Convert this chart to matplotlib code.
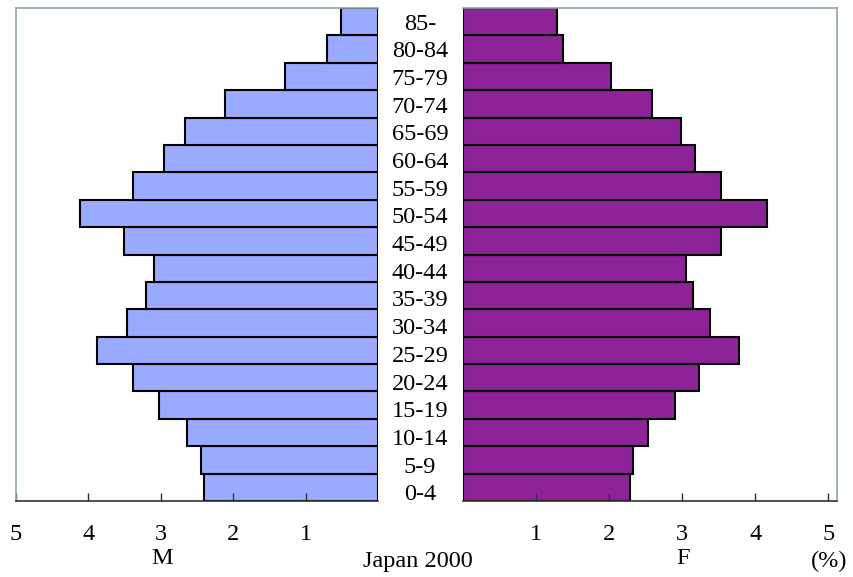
import matplotlib.pyplot as plt

# --- DATA (percent of population, Japan 2000) ---
age_groups = ["0-4", "5-9", "10-14", "15-19", "20-24", "25-29", "30-34", "35-39",
              "40-44", "45-49", "50-54", "55-59", "60-64", "65-69", "70-74",
              "75-79", "80-84", "85-"]
male = [2.40, 2.44, 2.64, 3.02, 3.39, 3.88, 3.46, 3.21,
        3.09, 3.51, 4.12, 3.39, 2.96, 2.66, 2.11, 1.28, 0.70, 0.51]
female = [2.29, 2.33, 2.53, 2.90, 3.23, 3.78, 3.38, 3.15,
          3.05, 3.53, 4.16, 3.53, 3.18, 2.99, 2.59, 2.03, 1.37, 1.29]
ticks = [1, 2, 3, 4, 5]

male_color = "#9aabff"
female_color = "#8e2399"
frame_color = "#8fa5ad"
serif = ["Liberation Serif", "DejaVu Serif"]
fs = 17.5

W, H = 854, 577
fig = plt.figure(figsize=(W / 100, H / 100), dpi=100)

top, bottom = 8, 501
axL = fig.add_axes([16 / W, 1 - bottom / H, (378 - 16) / W, (bottom - top) / H])
axR = fig.add_axes([463 / W, 1 - bottom / H, (837 - 463) / W, (bottom - top) / H])

y = list(range(len(age_groups)))
axL.barh(y, male, height=1.0, color=male_color, edgecolor="black", linewidth=1.5)
axR.barh(y, female, height=1.0, color=female_color, edgecolor="black", linewidth=1.5)

axL.set_xlim(4.985, 0)
axR.set_xlim(0, 5.12)
for ax in (axL, axR):
    ax.set_ylim(-0.5, len(age_groups) - 0.5)
    ax.set_yticks([])
    ax.set_xticks(ticks)
    ax.set_xticklabels([])
    ax.tick_params(axis="x", direction="in", length=6, width=1, color="#303030")
    ax.spines["bottom"].set_color("#303030")
    ax.spines["top"].set_color(frame_color)
    for s in ax.spines.values():
        s.set_linewidth(1.2)

axL.spines["right"].set_visible(False)
axL.spines["left"].set_color(frame_color)
axR.spines["left"].set_visible(False)
axR.spines["right"].set_color(frame_color)

# age labels in the middle gap (spaced a little wider than the bars)
n = len(age_groups)
for i, lab in enumerate(age_groups):
    k = n - 1 - i
    ypix = 24 + k * 27.7
    fig.text(420 / W, 1 - ypix / H, lab, ha="center", va="center",
             fontsize=fs, family=serif)

# tick labels below axes
def fx(ax, v):
    return ax.transData.transform((v, 0))[0] / W

for t in ticks:
    fig.text(fx(axL, t), 1 - 535 / H, str(t), ha="center", va="center", fontsize=fs, family=serif)
    fig.text(fx(axR, t), 1 - 535 / H, str(t), ha="center", va="center", fontsize=fs, family=serif)

fig.text(162 / W, 1 - 559 / H, "M", ha="center", va="center", fontsize=fs, family=serif)
fig.text(418 / W, 1 - 561 / H, "Japan 2000", ha="center", va="center", fontsize=fs, family=serif)
fig.text(683 / W, 1 - 559 / H, "F", ha="center", va="center", fontsize=fs, family=serif)
fig.text(829 / W, 1 - 561 / H, "(%)", ha="center", va="center", fontsize=fs, family=serif)

fig.savefig("out.png", dpi=100)
